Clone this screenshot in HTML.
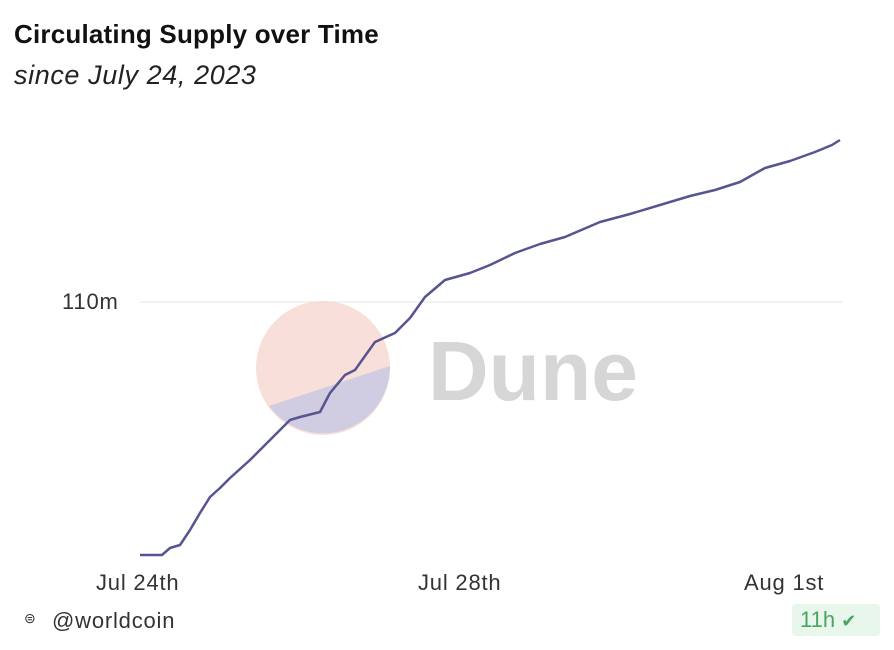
<!DOCTYPE html>
<html><head><style>
body{margin:0;width:894px;height:650px;background:#fff;font-family:"Liberation Sans",sans-serif;position:relative;overflow:hidden}
.t{position:absolute;left:14px;top:19px;font-size:26px;font-weight:bold;color:#111;letter-spacing:0.2px}
.s{position:absolute;left:14px;top:60px;font-size:27px;font-style:italic;color:#222;letter-spacing:0.6px}
.lab{position:absolute;font-size:22px;color:#333;letter-spacing:0.8px}
</style></head><body>
<div class="t">Circulating Supply over Time</div>
<div class="s">since July 24, 2023</div>
<svg width="894" height="650" style="position:absolute;left:0;top:0">
<line x1="140" y1="302" x2="843" y2="302" stroke="#e6e6e6" stroke-width="1"/>
<circle cx="323" cy="368" r="67" fill="#f7d4cc" opacity="0.75"/>
<path d="M269,406 L390,366 A67,67 0 0 1 269,406 Z" fill="#c9c9e2" opacity="0.85"/>
<text x="428" y="400" font-family="Liberation Sans" font-weight="bold" font-size="84" fill="#d6d6d6">Dune</text>
<polyline fill="none" stroke="#56558f" stroke-width="2.5" stroke-linejoin="round" points="140,555 162,555 170,548 180,545 190,530 200,513 210,497 220,488 230,478 250,460 270,440 290,420 300,417 320,412 330,393 345,375 355,370 375,342 395,333 410,318 425,297 445,280 470,273 490,265 515,253 540,244 565,237 600,222 630,214 660,205 690,196 715,190 740,182 765,168 790,161 815,152 832,145 840,140"/>
</svg>
<div class="lab" style="left:62px;top:289px">110m</div>
<div class="lab" style="left:96px;top:570px">Jul 24th</div>
<div class="lab" style="left:418px;top:570px">Jul 28th</div>
<div class="lab" style="left:744px;top:570px">Aug 1st</div>
<div class="lab" style="left:24px;top:610px;font-size:14px">&#x229C;</div>
<div class="lab" style="left:52px;top:608px">@worldcoin</div>
<div style="position:absolute;left:792px;top:604px;width:88px;height:32px;background:#e9f6ec;border-radius:4px;color:#4aa563;font-size:22px;line-height:32px;padding-left:8px;box-sizing:border-box">11h <span style="font-size:18px">&#x2714;</span></div>
</body></html>
